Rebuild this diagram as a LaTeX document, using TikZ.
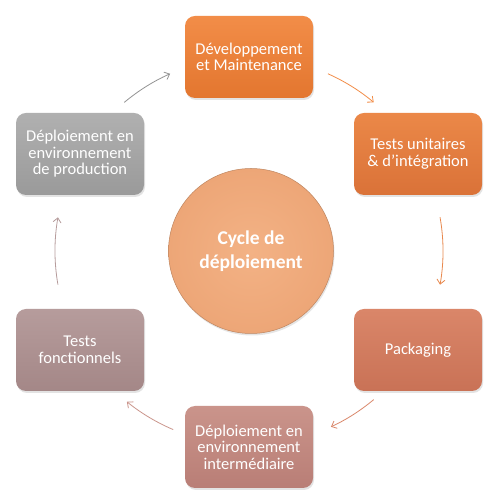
\documentclass[tikz,border=0pt]{standalone}
\usepackage{fontspec}
\setmainfont{Carlito}
\usetikzlibrary{arrows.meta,shadows,calc}
\definecolor{devT}{HTML}{F28D48}\definecolor{devB}{HTML}{E3762F}
\definecolor{tuT}{HTML}{EB8848}\definecolor{tuB}{HTML}{DA7238}
\definecolor{pkT}{HTML}{DA8669}\definecolor{pkB}{HTML}{C97256}
\definecolor{inT}{HTML}{CA948B}\definecolor{inB}{HTML}{B97E76}
\definecolor{foT}{HTML}{B69C9C}\definecolor{foB}{HTML}{A48787}
\definecolor{prT}{HTML}{B0B0B0}\definecolor{prB}{HTML}{9A9A9A}
\definecolor{ciI}{HTML}{F3B285}\definecolor{ciO}{HTML}{EDA677}
\tikzset{
  stagebox/.style={rounded corners=10pt, minimum width=128pt, minimum height=82pt,
    align=center, text=white, inner sep=2pt,
    font=\fontsize{16.5}{16.5}\selectfont,
    drop shadow={opacity=0.22, shadow xshift=1pt, shadow yshift=-2pt}},
  cyclearrow/.style={line width=0.8pt, -{Straight Barb[length=4.5pt,width=8pt]}},
}
\begin{document}
\begin{tikzpicture}[x=1pt,y=1pt]
\useasboundingbox[fill=white] (0,0) rectangle (501,502);
\coordinate (c) at (249,251);
% centre
\node[circle, minimum size=165pt, draw=ciO!80!black, line width=0.5pt,
  inner color=ciI, outer color=ciO, text=white, align=center,
  font=\bfseries\fontsize{19.5}{24}\selectfont,
  drop shadow={opacity=0.2, shadow xshift=1pt, shadow yshift=-2pt}] (cy) at (251,251) {Cycle de\\d\'eploiement};
% boxes
\node[stagebox, top color=devT, bottom color=devB] (dev) at (249,445) {D\'eveloppement\\et Maintenance};
\node[stagebox, top color=tuT, bottom color=tuB] (tu) at (418,348) {Tests unitaires\\\& d’int\'egration};
\node[stagebox, top color=pkT, bottom color=pkB] (pk) at (418,152) {Packaging};
\node[stagebox, top color=inT, bottom color=inB] (in) at (249,55) {D\'eploiement en\\environnement\\interm\'ediaire};
\node[stagebox, top color=foT, bottom color=foB] (fo) at (80,152) {Tests\\fonctionnels};
\node[stagebox, top color=prT, bottom color=prB] (pr) at (80,348) {D\'eploiement en\\environnement\\de production};
% arcs
\coordinate (a1) at ($(c)+(130:194pt)$);
\coordinate (a2) at ($(c)+(66:194pt)$);
\coordinate (a3) at ($(c)+(10:194pt)$);
\coordinate (a4) at ($(c)+(-50:194pt)$);
\coordinate (a5) at ($(c)+(-113:194pt)$);
\coordinate (a6) at ($(c)+(190:194pt)$);
\draw[cyclearrow, draw=prB!95!black] (a1) arc[start angle=130, end angle=114, radius=194pt];
\draw[cyclearrow, draw=devT] (a2) arc[start angle=66, end angle=50, radius=194pt];
\draw[cyclearrow, draw=tuT!85!pkT] (a3) arc[start angle=10, end angle=-10, radius=194pt];
\draw[cyclearrow, draw=pkT] (a4) arc[start angle=-50, end angle=-65, radius=194pt];
\draw[cyclearrow, draw=inT] (a5) arc[start angle=-113, end angle=-129, radius=194pt];
\draw[cyclearrow, draw=foT] (a6) arc[start angle=190, end angle=170, radius=194pt];
\end{tikzpicture}
\end{document}
